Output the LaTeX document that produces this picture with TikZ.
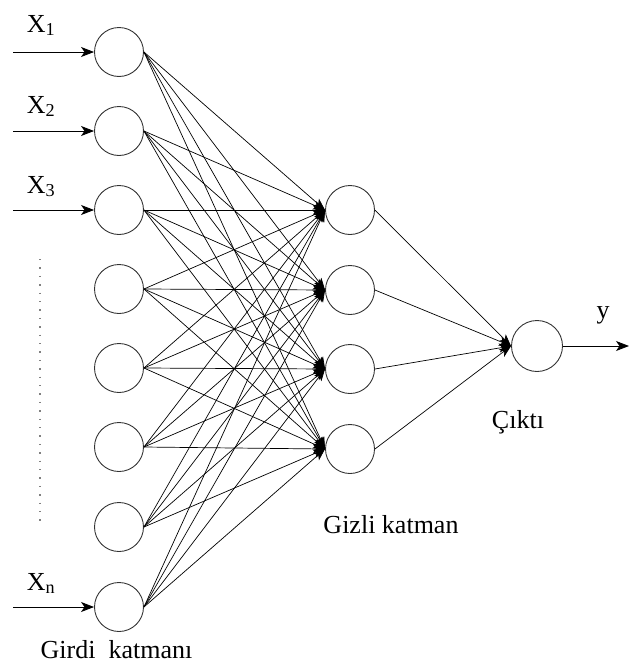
\documentclass[tikz,border=0pt]{standalone}
\usepackage{fontspec}
\setmainfont{Liberation Serif}
\usetikzlibrary{arrows.meta}
\begin{document}
\begin{tikzpicture}[x=1pt,y=-1pt,
  neuron/.style={circle,draw=black!80,line width=0.9pt,minimum size=49pt,inner sep=0pt},
  conn/.style={line width=0.7pt,draw=black,-{Stealth[length=12pt,width=9pt,inset=3pt]}},
  inarrow/.style={line width=0.9pt,-{Stealth[length=13pt,width=10pt,inset=3.5pt]}},
  lbl/.style={font=\fontsize{26}{30}\selectfont,inner sep=0pt,anchor=base}]
\useasboundingbox (0,0) rectangle (629,664);
% input layer
\foreach \i/\y in {1/52,2/131,3/210,4/289,5/368,6/447,7/527,8/607}
  \node[neuron] (i\i) at (119,\y) {};
% hidden layer
\foreach \j/\y in {1/210,2/290,3/369,4/449}
  \node[neuron] (h\j) at (350,\y) {};
% output
\node[neuron,minimum size=51pt] (o) at (537,346) {};
% connections
\foreach \i in {1,...,8}
  \foreach \j in {1,...,4}
    \draw[conn] (i\i.east) -- (h\j.west);
\foreach \j in {1,...,4}
  \draw[conn] (h\j.east) -- (o.west);
% input arrows
\coordinate (s1) at (13,52);
\coordinate (s2) at (13,131);
\coordinate (s3) at (13,210);
\coordinate (s8) at (13,607);
\foreach \k in {1,2,3,8}
  \draw[inarrow] (s\k) -- (i\k.west);
\coordinate (oe) at (629,346);
\draw[inarrow] (o.east) -- (oe);
% labels
\node[lbl] (x1) at (41,32) {X\textsubscript{1}};
\node[lbl] (x2) at (41,113) {X\textsubscript{2}};
\node[lbl] (x3) at (41,193) {X\textsubscript{3}};
\node[lbl] (xn) at (41,590) {X\textsubscript{n}};
\node[lbl] (ylab) at (603,318) {y};
\node[lbl] (lin) at (116.5,658) {Girdi\ \ katmanı};
\node[lbl] (lhid) at (391,533) {Gizli katman};
\node[lbl] (lout) at (518,428) {Çıktı};
% dotted line
\coordinate (d1) at (40,259);
\coordinate (d2) at (40,522);
\draw[gray,line width=1.2pt,dash pattern=on 1.4pt off 7pt] (d1) -- (d2);
\end{tikzpicture}
\end{document}
